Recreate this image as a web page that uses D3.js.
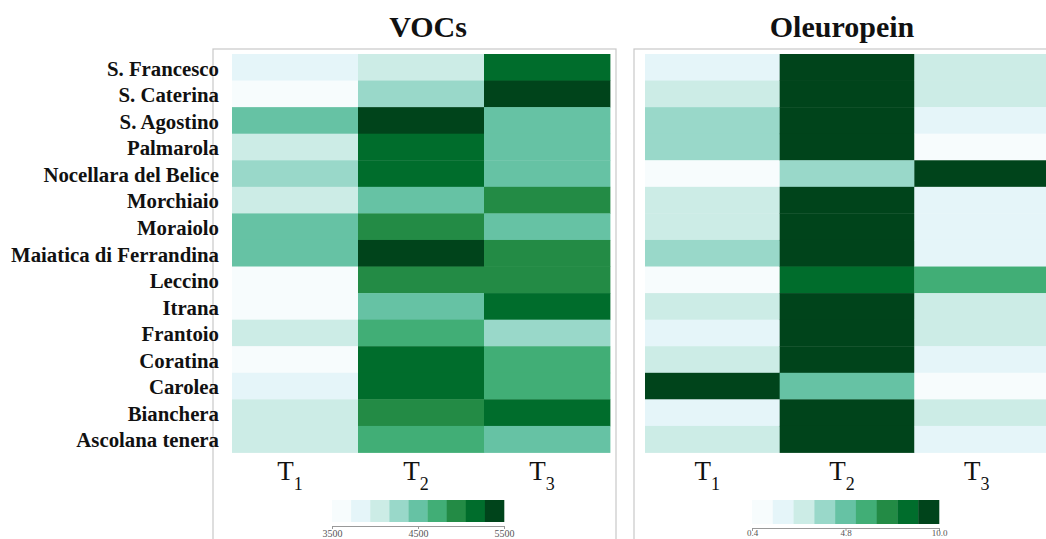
<!DOCTYPE html>
<html><head><meta charset="utf-8">
<script src="https://cdn.jsdelivr.net/npm/d3@7"></script>
<style>
html,body{margin:0;padding:0;background:#fff;}
svg{display:block;}
text{font-family:"Liberation Serif","Times New Roman",serif;}
</style></head>
<body>
<svg id="chart" width="1046" height="539"></svg>
<script>
// ---- data ----
const cultivars = ["S. Francesco","S. Caterina","S. Agostino","Palmarola","Nocellara del Belice","Morchiaio","Moraiolo","Maiatica di Ferrandina","Leccino","Itrana","Frantoio","Coratina","Carolea","Bianchera","Ascolana tenera"];
const times = ["1","2","3"];
// VOCs totals per time point (T1, T2, T3)
const vocsT1 = [3840,3610,4510,4060,4270,4050,4490,4520,3600,3620,4040,3620,3850,4060,4050];
const vocsT2 = [4060,4280,5400,5160,5170,4500,4950,5390,4950,4490,4730,5170,5160,4940,4720];
const vocsT3 = [5170,5400,4500,4490,4510,4950,4500,4940,4950,5170,4280,4720,4730,5160,4500];
// Oleuropein per time point (T1, T2, T3)
const oleT1 = [1.9,2.8,3.8,3.9,0.8,2.9,2.8,3.8,0.9,2.8,1.9,2.8,9.5,1.8,2.9];
const oleT2 = [9.6,9.5,9.7,9.5,3.8,9.6,9.4,9.5,8.3,9.6,9.5,9.4,4.8,9.6,9.5];
const oleT3 = [2.8,2.9,1.8,0.9,9.4,1.9,1.8,1.9,6.0,2.8,2.9,1.9,0.8,2.8,1.9];
const vocsTicks = [3500,4500,5500];
const oleTicks = [0.4,4.8,10.0];
const titles = ["VOCs","Oleuropein"];

const colors = d3.schemeBuGn[9];
const svg = d3.select("#chart");

function panel(cfg){
  const g = svg.append("g");
  // frame
  g.append("rect").attr("x",cfg.frame[0]).attr("y",cfg.frame[1])
    .attr("width",cfg.frame[2]).attr("height",cfg.frame[3])
    .attr("fill","none").attr("stroke","#c8c8c8").attr("stroke-width",1.2);
  g.append("text").attr("x",cfg.titleX).attr("y",37).attr("text-anchor","middle")
    .attr("font-size",30).attr("font-weight","bold").attr("fill","#111").text(cfg.title);

  const x = d3.scaleBand().domain(times).range([cfg.x0,cfg.x1]);
  const y = d3.scaleBand().domain(cultivars).range([54,452.5]);
  const pos = cfg.norm; // value -> [0,1]
  const col = v => colors[Math.min(8,Math.max(0,Math.floor(pos(v)*9)))];

  const cells = [];
  cfg.series.forEach((s,ti)=>s.forEach((v,ri)=>cells.push({t:times[ti],c:cultivars[ri],v})));
  g.selectAll("rect.cell").data(cells).join("rect").attr("class","cell")
    .attr("x",d=>x(d.t)).attr("y",d=>y(d.c))
    .attr("width",x.bandwidth()+0.4).attr("height",y.bandwidth()+0.4)
    .attr("fill",d=>col(d.v));

  // x labels
  const xl = g.selectAll("text.xl").data(times).join("text").attr("class","xl")
    .attr("x",d=>x(d)+x.bandwidth()/2-5).attr("y",480)
    .attr("text-anchor","middle").attr("font-size",27).attr("fill","#111");
  xl.append("tspan").text("T");
  xl.append("tspan").attr("dy",10).attr("font-size",18).text(d=>d);

  if(cfg.rowLabels){
    g.selectAll("text.rl").data(cultivars).join("text").attr("class","rl")
      .attr("x",219).attr("y",d=>y(d)+y.bandwidth()/2+1).attr("dy","0.35em")
      .attr("text-anchor","end").attr("font-size",20.8).attr("font-weight","bold")
      .attr("fill","#111").text(d=>d);
  }

  // legend
  const lx = d3.scaleLinear().domain(cfg.legDomain).range(cfg.legRange);
  const l0 = cfg.legRange[0], l1 = cfg.legRange[cfg.legRange.length-1];
  const sw = (l1-l0)/9;
  g.selectAll("rect.sw").data(colors).join("rect").attr("class","sw")
    .attr("x",(d,i)=>l0+i*sw).attr("y",500)
    .attr("width",sw+0.3).attr("height",cfg.legH).attr("fill",d=>d);
  const ax = g.append("g").attr("transform",`translate(0,${500+cfg.legH+4})`)
    .call(d3.axisBottom(lx).tickValues(cfg.ticks).tickSize(3).tickFormat(cfg.fmt));
  ax.select(".domain").attr("stroke","#999");
  ax.selectAll(".tick line").attr("stroke","#999");
  ax.selectAll(".tick text").attr("font-size",cfg.tickFont).attr("fill","#555")
    .attr("font-family","Liberation Serif, serif").attr("y",4).attr("dy",cfg.tickDy);
}

panel({
  title:titles[0], titleX:428, frame:[213,49,403,540],
  x0:232, x1:610, series:[vocsT1,vocsT2,vocsT3],
  norm:d3.scaleLinear().domain([3500,5500]).range([0,1]).clamp(true),
  rowLabels:true,
  legDomain:[3500,5500], legRange:[332,504], legH:22, ticks:vocsTicks, fmt:d3.format("d"),
  tickFont:10, tickDy:"0.71em"
});
panel({
  title:titles[1], titleX:842, frame:[634,49,440,540],
  x0:645, x1:1049, series:[oleT1,oleT2,oleT3],
  norm:d3.scaleLinear().domain([0.4,4.8,10.0]).range([0,0.5,1]).clamp(true),
  rowLabels:false,
  legDomain:[0.4,4.8,10.0], legRange:[752,845.5,939], legH:24, ticks:oleTicks, fmt:d3.format(".1f"),
  tickFont:9, tickDy:"0.45em"
});
</script>
</body></html>
